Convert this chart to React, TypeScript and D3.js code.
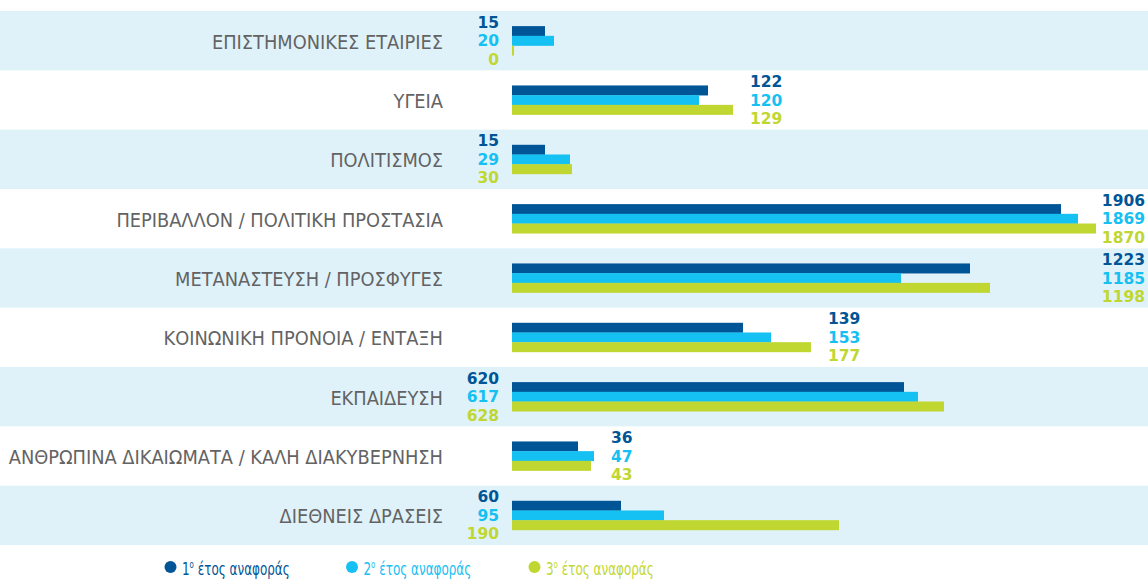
import React from "react";
import * as d3 from "d3";

// ---- data ----
const categories = [
  "ΕΠΙΣΤΗΜΟΝΙΚΕΣ ΕΤΑΙΡΙΕΣ",
  "ΥΓΕΙΑ",
  "ΠΟΛΙΤΙΣΜΟΣ",
  "ΠΕΡΙΒΑΛΛΟΝ / ΠΟΛΙΤΙΚΗ ΠΡΟΣΤΑΣΙΑ",
  "ΜΕΤΑΝΑΣΤΕΥΣΗ / ΠΡΟΣΦΥΓΕΣ",
  "ΚΟΙΝΩΝΙΚΗ ΠΡΟΝΟΙΑ / ΕΝΤΑΞΗ",
  "ΕΚΠΑΙΔΕΥΣΗ",
  "ΑΝΘΡΩΠΙΝΑ ΔΙΚΑΙΩΜΑΤΑ / ΚΑΛΗ ΔΙΑΚΥΒΕΡΝΗΣΗ",
  "ΔΙΕΘΝΕΙΣ ΔΡΑΣΕΙΣ",
];
const seriesNames = ["έτος αναφοράς", "έτος αναφοράς", "έτος αναφοράς"];
const seriesOrdinals = ["1", "2", "3"];

// printed values
const year1 = [15, 122, 15, 1906, 1223, 139, 620, 36, 60];
const year2 = [20, 120, 29, 1869, 1185, 153, 617, 47, 95];
const year3 = [0, 129, 30, 1870, 1198, 177, 628, 43, 190];

// bar lengths as drawn in the original graphic (its own, non-proportional units)
const bar1 = [33, 196, 33, 549, 458, 231, 392, 66, 109];
const bar2 = [42, 187, 58, 566, 389, 259, 406, 82, 152];
const bar3 = [0, 221, 60, 584, 478, 299, 432, 79, 327];

// where the value labels sit in each row
const labelPlacement = ["left", "right", "left", "edge", "edge", "right", "left", "right", "left"];

const colors = ["#005596", "#15c0f2", "#bfd730"];

const W = 1148;
const H = 581;

export default function App() {
  const values = [year1, year2, year3];
  const bars = [bar1, bar2, bar3];

  const y = d3.scaleBand<number>().domain(d3.range(categories.length)).range([11, 545]).padding(0);
  const x = d3.scaleLinear().domain([0, 584]).range([512, 1096]);
  const barH = 9.7;
  const lineH = 18.5;
  const labelFont = "'DejaVu Sans Condensed', 'DejaVu Sans', sans-serif";
  const legendBase = 575;

  return (
    <svg
      width={W}
      height={H}
      style={{ position: "absolute", left: 0, top: 0, display: "block", background: "#fff" }}
    >
      {categories.map((c, i) => {
        const y0 = y(i)!;
        const cy = y0 + y.bandwidth() / 2;
        const maxEnd = d3.max(bars.map((b) => x(b[i])))!;
        const place = labelPlacement[i];
        let lx = 499;
        let anchor: "start" | "end" = "end";
        if (place === "right") {
          lx = maxEnd + 17;
          anchor = "start";
        } else if (place === "edge") {
          lx = 1145;
          anchor = "end";
        }
        return (
          <g key={c}>
            {i % 2 === 0 && <rect x={0} y={y0} width={W} height={y.bandwidth()} fill="#dff2fa" />}
            <text
              x={443}
              y={cy + 1}
              dy="0.36em"
              textAnchor="end"
              fontFamily={labelFont}
              fontSize={19.8}
              fill="#636363"
            >
              {c}
            </text>
            {bars.map((b, s) => {
              const w = Math.max(2, x(b[i]) - x(0));
              return (
                <rect
                  key={s}
                  x={x(0)}
                  y={cy - 1.5 * barH + s * barH}
                  width={w}
                  height={barH + 0.3}
                  fill={colors[s]}
                />
              );
            })}
            {values.map((v, s) => (
              <text
                key={"l" + s}
                x={lx}
                y={cy + (s - 1) * lineH}
                dy="0.36em"
                textAnchor={anchor}
                fontFamily="'DejaVu Sans', sans-serif"
                fontWeight="bold"
                fontSize={15.5}
                fill={colors[s]}
              >
                {v[i]}
              </text>
            ))}
          </g>
        );
      })}
      {/* legend */}
      {[170.5, 352, 534.5].map((cx, s) => (
        <g key={"leg" + s}>
          <circle cx={cx} cy={legendBase - 8} r={6} fill={colors[s]} />
          <text
            transform={`translate(${cx + 11.5},${legendBase}) scale(0.74,1)`}
            x={0}
            y={0}
            fontFamily={labelFont}
            fontSize={18}
            fill={colors[s]}
          >
            {seriesOrdinals[s]}
            <tspan fontSize={10.5} dy={-7.5}>ο</tspan>
            <tspan dy={7.5}>{" " + seriesNames[s]}</tspan>
          </text>
        </g>
      ))}
    </svg>
  );
}
